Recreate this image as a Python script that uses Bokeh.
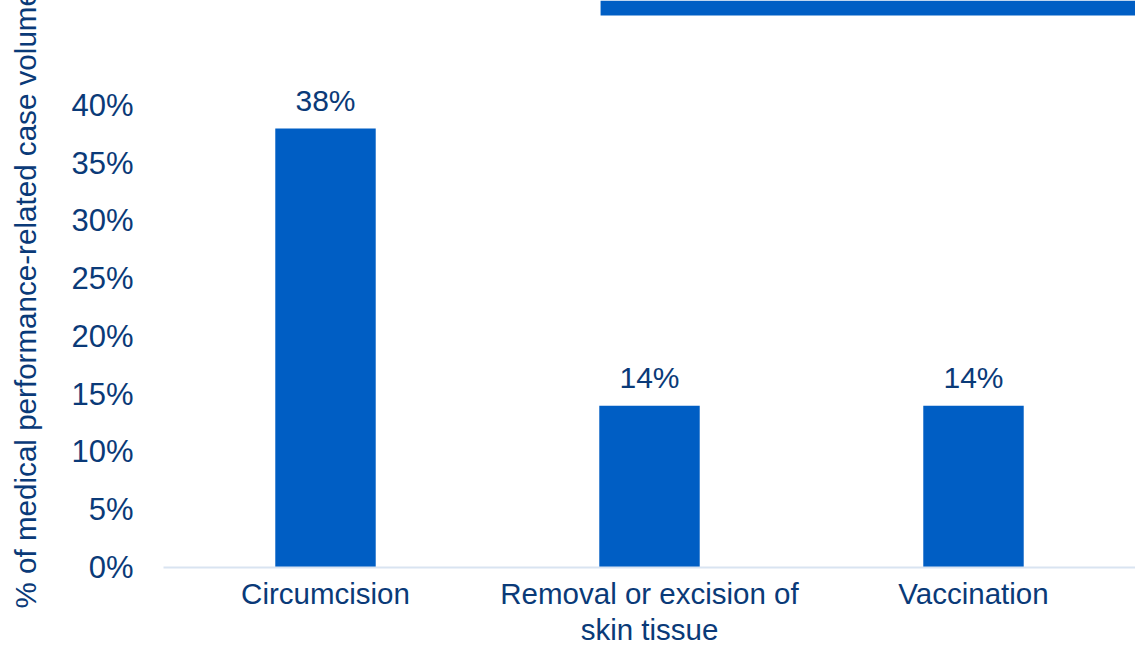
from bokeh.plotting import figure
from bokeh.models import FactorRange, FixedTicker, PrintfTickFormatter, ColumnDataSource, BoxAnnotation, Range1d, Title
from bokeh.core.properties import value
from bokeh.embed import file_html
from bokeh.resources import INLINE

categories = ["Circumcision", "Removal or excision of\nskin tissue", "Vaccination"]
shares = [38, 14, 14]
bar_labels = ["38%", "14%", "14%"]
y_ticks = [0, 5, 10, 15, 20, 25, 30, 35, 40]
y_title = "% of medical performance-related case volume"

BAR = "#005EC4"
TXT = "#0A3A78"
FONT = "Liberation Sans"

src = ColumnDataSource(dict(cat=categories, val=shares, lab=bar_labels))

p = figure(width=1135, height=649, x_range=FactorRange(*categories, range_padding=0),
           y_range=Range1d(0, 49.09), output_backend="svg", toolbar_location=None,
           min_border_top=0, min_border_right=0, min_border_bottom=82, min_border_left=163)
p.outline_line_color = None
p.background_fill_color = "white"
p.border_fill_color = "white"
p.xgrid.grid_line_color = None
p.ygrid.grid_line_color = None

p.vbar(x="cat", top="val", width=0.31, source=src, fill_color=BAR, line_color=None)
p.text(x="cat", y="val", text="lab", source=src, text_align="center", text_baseline="bottom",
       y_offset=-12, text_font=value(FONT), text_font_size="30px", text_color=TXT)

p.add_layout(BoxAnnotation(left=1.349, right=None, top=None, bottom=47.79,
                           fill_color=BAR, fill_alpha=1.0, line_color=None))

p.add_layout(Title(text=y_title, align="left", offset=-41, text_font=FONT,
                   text_font_size="29.6px", text_font_style="normal", text_color=TXT), "left")

p.yaxis.ticker = FixedTicker(ticks=y_ticks)
p.yaxis.formatter = PrintfTickFormatter(format="%d%%")
p.yaxis.axis_line_color = None
p.yaxis.major_tick_line_color = None
p.yaxis.minor_tick_line_color = None
p.yaxis.major_label_text_font = FONT
p.yaxis.major_label_text_font_size = "31px"
p.yaxis.major_label_text_color = TXT
p.yaxis.major_label_standoff = 24
p.yaxis.axis_label = " "
p.yaxis.axis_label_text_font_size = "1px"
p.yaxis.axis_label_standoff = 18

p.xaxis.axis_line_color = "#D9E4F1"
p.xaxis.axis_line_width = 2
p.xaxis.major_tick_line_color = None
p.xaxis.minor_tick_line_color = None
p.xaxis.major_label_text_font = FONT
p.xaxis.major_label_text_font_size = "29.5px"
p.xaxis.major_label_text_color = TXT
p.xaxis.major_label_text_line_height = 1.1
p.xaxis.major_label_standoff = 3

open("out.html", "w").write(file_html(p, INLINE))
